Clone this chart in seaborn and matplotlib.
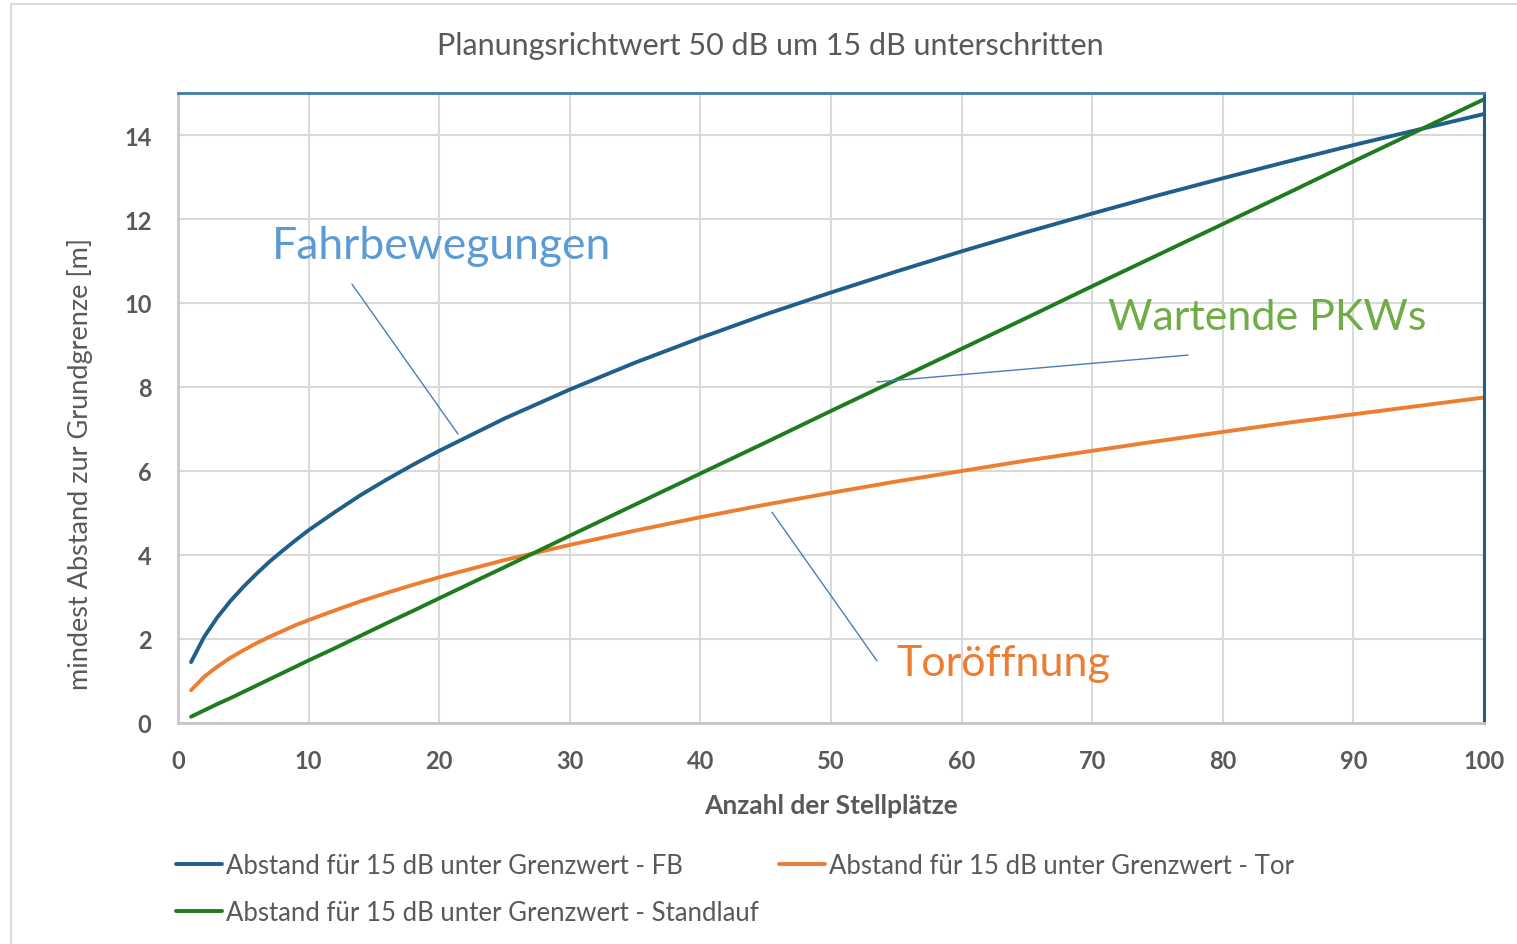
import numpy as np
import pandas as pd
import matplotlib.pyplot as plt
import seaborn as sns
from matplotlib.patches import Rectangle

# ---------------- data ----------------
stellplaetze = [1, 2, 3, 4, 5, 6, 7, 8, 9, 10, 12, 14, 16, 18, 20, 25, 30, 35, 40, 45,
                50, 55, 60, 65, 70, 75, 80, 85, 90, 95, 100]
abstand_fb = [1.45, 2.05, 2.51, 2.90, 3.24, 3.55, 3.84, 4.10, 4.35, 4.59, 5.02, 5.43, 5.80,
              6.15, 6.48, 7.25, 7.94, 8.58, 9.17, 9.73, 10.25, 10.75, 11.23, 11.69, 12.13,
              12.56, 12.97, 13.37, 13.76, 14.13, 14.50]
abstand_tor = [0.78, 1.10, 1.34, 1.55, 1.73, 1.90, 2.05, 2.19, 2.33, 2.45, 2.68, 2.90, 3.10,
               3.29, 3.47, 3.88, 4.24, 4.58, 4.90, 5.20, 5.48, 5.75, 6.00, 6.25, 6.48,
               6.71, 6.93, 7.15, 7.35, 7.55, 7.75]
abstand_standlauf = [0.15, 0.30, 0.45, 0.59, 0.74, 0.89, 1.04, 1.19, 1.34, 1.49, 1.78, 2.08,
                     2.38, 2.67, 2.97, 3.71, 4.46, 5.20, 5.94, 6.68, 7.43, 8.17, 8.91, 9.65,
                     10.40, 11.14, 11.88, 12.62, 13.37, 14.11, 14.85]

series_labels = ['Abstand für 15 dB unter Grenzwert - FB',
                 'Abstand für 15 dB unter Grenzwert - Tor',
                 'Abstand für 15 dB unter Grenzwert - Standlauf']
x_ticks = [0, 10, 20, 30, 40, 50, 60, 70, 80, 90, 100]
y_ticks = [0, 2, 4, 6, 8, 10, 12, 14]

df = pd.DataFrame({
    'Stellplaetze': stellplaetze * 3,
    'Abstand': abstand_fb + abstand_tor + abstand_standlauf,
    'Serie': [series_labels[0]] * len(stellplaetze) + [series_labels[1]] * len(stellplaetze)
             + [series_labels[2]] * len(stellplaetze),
})

# ---------------- plot ----------------
sns.set_style('white')
plt.rcParams['font.family'] = ['Lato', 'DejaVu Sans']
grey = '#595959'
palette = {series_labels[0]: '#1f5f8b', series_labels[1]: '#ed7d31', series_labels[2]: '#1e7b1e'}

fig = plt.figure(figsize=(15.17, 9.45), dpi=100)
ax = fig.add_axes([178 / 1517, 1 - 724 / 945, 1306 / 1517, 630 / 945])

sns.lineplot(data=df, x='Stellplaetze', y='Abstand', hue='Serie', palette=palette,
             linewidth=2.8, ax=ax, legend=False)

ax.set_xlim(0, 100)
ax.set_ylim(0, 15)
ax.set_xticks(x_ticks)
ax.set_yticks(y_ticks)
ax.grid(True, color='#d9d9d9', linewidth=1.5)
ax.tick_params(length=0, labelsize=17, labelcolor=grey, pad=19)
for lab in ax.get_xticklabels() + ax.get_yticklabels():
    lab.set_fontweight('bold')

for side in ['left', 'bottom']:
    ax.spines[side].set_color('#c8c8c8')
    ax.spines[side].set_linewidth(2)
ax.spines['top'].set_color('#3f7fa3')
ax.spines['top'].set_linewidth(2)
ax.spines['right'].set_color('#1f5f8b')
ax.spines['right'].set_linewidth(2.2)

ax.set_xlabel('Anzahl der Stellplätze', fontsize=19, fontweight='bold', color=grey)
ax.set_ylabel('mindest Abstand zur Grundgrenze [m]', fontsize=19.5, color=grey)
ax.xaxis.set_label_coords(0.5, -0.111)
ax.yaxis.set_label_coords(-0.065, 0.413)

fig.text(770 / 1517, 1 - 46 / 945, 'Planungsrichtwert 50 dB um 15 dB unterschritten',
         ha='center', va='center', fontsize=22, color=grey)

# callouts
ax.text(7.2, 11.36, 'Fahrbewegungen', fontsize=32, color='#5b9bd5', va='center', ha='left')
ax.text(71.2, 9.67, 'Wartende PKWs', fontsize=31, color='#70ad47', va='center', ha='left')
ax.text(55.0, 1.43, 'Toröffnung', fontsize=31, color='#ed7d31', va='center', ha='left')
ax.plot([13.32, 21.44], [10.45, 6.88], color='#4a7ebb', linewidth=1)
ax.plot([77.34, 53.52], [8.76, 8.12], color='#4a7ebb', linewidth=1)
ax.plot([45.48, 53.52], [5.02, 1.48], color='#4a7ebb', linewidth=1)

# legend below (column-wise fill -> FB, Standlauf in col 1, Tor in col 2)
order = [0, 2, 1]
handles = [plt.Line2D([], [], color=palette[series_labels[i]], linewidth=2.8) for i in order]
fig.legend(handles, [series_labels[i] for i in order], loc='upper left',
           bbox_to_anchor=(153 / 1517, 1 - 831 / 945),
           ncol=2, frameon=False, fontsize=18.5, labelcolor=grey, handlelength=1.8,
           handletextpad=0.15, columnspacing=0.77, labelspacing=0.85)

# light outer frame
fig.patches.append(Rectangle((11 / 1517, -0.1), 1.2, 1.1 - 5 / 945, transform=fig.transFigure,
                             fill=False, edgecolor='#dcdcdc', linewidth=1.5))

fig.savefig('out.png', dpi=100)
